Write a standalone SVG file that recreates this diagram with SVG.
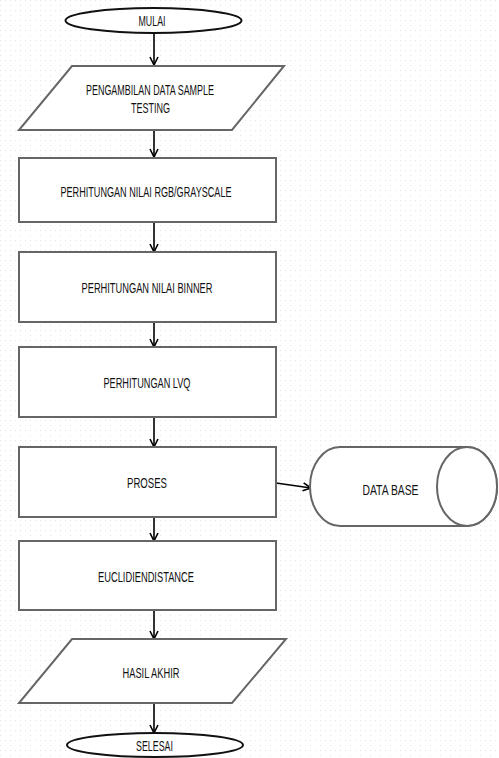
<svg xmlns="http://www.w3.org/2000/svg" width="499" height="758" viewBox="0 0 499 758">
<style>
.shape{fill:#fff;stroke:#666;stroke-width:2}
.conn{fill:none;stroke:#000;stroke-width:1.6}
text{font-family:"Liberation Sans",Arial,sans-serif;font-size:15.5px;fill:#111;text-anchor:middle}
</style>
<defs>
<pattern id="grid" width="10" height="10" patternUnits="userSpaceOnUse">
<line x1="0" y1="0.5" x2="10" y2="0.5" stroke="#e2e2e2" stroke-width="1" stroke-dasharray="1 4"/>
<line x1="0.5" y1="0" x2="0.5" y2="10" stroke="#e2e2e2" stroke-width="1" stroke-dasharray="1 4"/>
</pattern>
<marker id="arr" viewBox="0 0 10 10" refX="9" refY="5" markerWidth="10" markerHeight="10" markerUnits="userSpaceOnUse" orient="auto">
<path d="M1,1 L9,5 L1,9" fill="none" stroke="#000" stroke-width="1.6"/>
</marker>
</defs>
<rect x="0" y="0" width="499" height="758" fill="#fff"/>
<rect x="0" y="0" width="499" height="758" fill="url(#grid)"/>
<g id="connectors">
<line class="conn" x1="154" y1="33" x2="154" y2="65" marker-end="url(#arr)"/>
<line class="conn" x1="154" y1="130" x2="154" y2="157" marker-end="url(#arr)"/>
<line class="conn" x1="154" y1="222" x2="154" y2="252" marker-end="url(#arr)"/>
<line class="conn" x1="154" y1="322" x2="154" y2="347" marker-end="url(#arr)"/>
<line class="conn" x1="154" y1="417" x2="154" y2="447" marker-end="url(#arr)"/>
<line class="conn" x1="154" y1="517" x2="154" y2="541" marker-end="url(#arr)"/>
<line class="conn" x1="154" y1="610" x2="154" y2="639" marker-end="url(#arr)"/>
<line class="conn" x1="154" y1="703" x2="154" y2="733" marker-end="url(#arr)"/>
<line class="conn" x1="276" y1="483" x2="311" y2="488" marker-end="url(#arr)"/>
</g>
<g id="mulai">
<ellipse class="shape" cx="153.5" cy="20.5" rx="88" ry="12.5" style="stroke:#111"/>
<text x="152" y="26" textLength="27" lengthAdjust="spacingAndGlyphs">MULAI</text>
</g>
<g id="pengambilan">
<polygon class="shape" points="72,66 284,66 232,130 19,130"/>
<text x="150" y="95" textLength="128" lengthAdjust="spacingAndGlyphs">PENGAMBILAN DATA SAMPLE</text>
<text x="150.5" y="113" textLength="39" lengthAdjust="spacingAndGlyphs">TESTING</text>
</g>
<g id="rgb">
<rect class="shape" x="19" y="158" width="257" height="64"/>
<text x="146" y="197" textLength="171" lengthAdjust="spacingAndGlyphs">PERHITUNGAN NILAI RGB/GRAYSCALE</text>
</g>
<g id="binner">
<rect class="shape" x="19" y="252" width="257" height="70"/>
<text x="147" y="293" textLength="131" lengthAdjust="spacingAndGlyphs">PERHITUNGAN NILAI BINNER</text>
</g>
<g id="lvq">
<rect class="shape" x="19" y="347" width="257" height="70"/>
<text x="147" y="388" textLength="87" lengthAdjust="spacingAndGlyphs">PERHITUNGAN LVQ</text>
</g>
<g id="proses">
<rect class="shape" x="19" y="447" width="257" height="70"/>
<text x="147" y="488" textLength="40" lengthAdjust="spacingAndGlyphs">PROSES</text>
</g>
<g id="database">
<path class="shape" d="M340,447 L467,447 A30,39.5 0 0 1 467,526 L340,526 A30,39.5 0 0 1 340,447 Z"/>
<ellipse class="shape" cx="467" cy="486.5" rx="30" ry="39.5"/>
<text x="390.5" y="495" textLength="56" lengthAdjust="spacingAndGlyphs">DATA BASE</text>
</g>
<g id="euclidien">
<rect class="shape" x="19" y="541" width="257" height="69"/>
<text x="146" y="582" textLength="96" lengthAdjust="spacingAndGlyphs">EUCLIDIENDISTANCE</text>
</g>
<g id="hasil">
<polygon class="shape" points="72,639 286,639 232,703 19,703"/>
<text x="151" y="678" textLength="57" lengthAdjust="spacingAndGlyphs">HASIL AKHIR</text>
</g>
<g id="selesai">
<ellipse class="shape" cx="155" cy="745" rx="88" ry="12" style="stroke:#111"/>
<text x="154.5" y="751" textLength="37" lengthAdjust="spacingAndGlyphs">SELESAI</text>
</g>
</svg>
